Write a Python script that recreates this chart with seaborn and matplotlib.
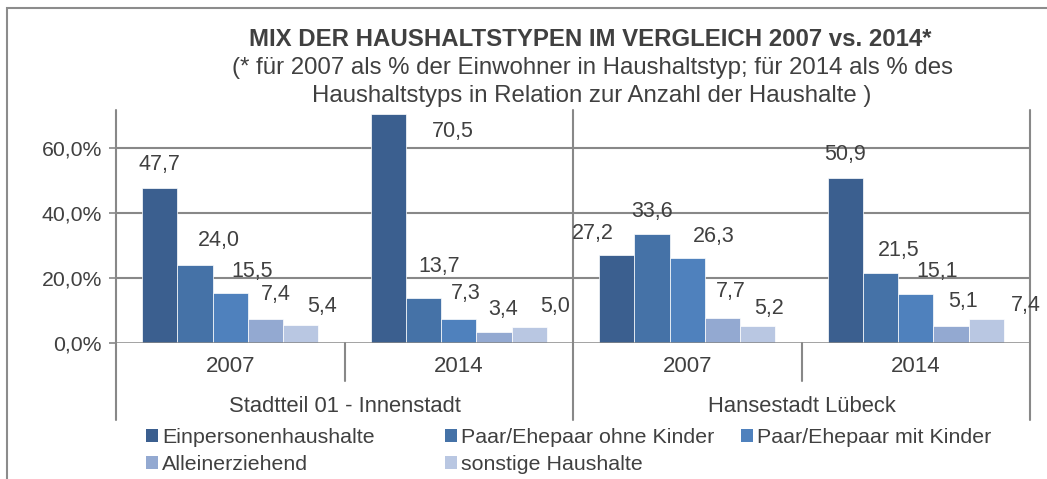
import pandas as pd
import matplotlib.pyplot as plt
import seaborn as sns
from matplotlib.patches import Patch, Rectangle
from matplotlib.ticker import FuncFormatter
import matplotlib.transforms as mtransforms

# data
regions = ["Stadtteil 01 - Innenstadt", "Hansestadt Lübeck"]
years = ["2007", "2014"]
types = ["Einpersonenhaushalte", "Paar/Ehepaar ohne Kinder", "Paar/Ehepaar mit Kinder",
         "Alleinerziehend", "sonstige Haushalte"]
einpersonen = [47.7, 70.5, 27.2, 50.9]
ohne_kinder = [24.0, 13.7, 33.6, 21.5]
mit_kinder = [15.5, 7.3, 26.3, 15.1]
alleinerziehend = [7.4, 3.4, 7.7, 5.1]
sonstige = [5.4, 5.0, 5.2, 7.4]

colors = ["#3b5f8f", "#4572a7", "#4f81bd", "#93a9d1", "#b9c7e2"]
text_col = "#404040"
grid_col = "#888888"

# label offsets (px) from bar top centre, per type and per category, as placed in the reference
label_dx = [[0, 64, -24, 0], [24, 16, 0, 18], [22, 7, 26, 21], [10, 9, 8, 12], [21, 26, 11, 40]]
label_dy = [[23, -18, 21, 23], [25, 32, 22, 23], [21, 26, 21, 22], [24, 22, 26, 25], [19, 20, 18, 13]]

cats = [r + " " + y for r in regions for y in years]
rows = []
for t, vals in zip(types, [einpersonen, ohne_kinder, mit_kinder, alleinerziehend, sonstige]):
    for c, v in zip(cats, vals):
        rows.append({"cat": c, "typ": t, "wert": v / 100})
df = pd.DataFrame(rows)

sns.set_style("white")
plt.rcParams["font.family"] = ["Liberation Sans", "DejaVu Sans"]

W, H = 1047, 479
fig = plt.figure(figsize=(W / 100, H / 100), dpi=100)
ax_l, ax_r, ax_t, ax_b = 116, 1030, 110, 343
ax = fig.add_axes([ax_l / W, 1 - ax_b / H, (ax_r - ax_l) / W, (ax_b - ax_t) / H])

sns.barplot(data=df, x="cat", y="wert", hue="typ", hue_order=types, order=cats,
            palette=colors, width=0.77, gap=0, ax=ax, legend=False,
            edgecolor="white", linewidth=0.5, saturation=1)

ax.set_xlim(-0.5, 3.5)
ax.set_ylim(0, 0.717)
ax.set_yticks([0, 0.2, 0.4, 0.6])
ax.yaxis.set_major_formatter(FuncFormatter(lambda v, p: f"{v * 100:.1f}%".replace(".", ",")))
ax.tick_params(axis="y", length=5, width=1.2, color=grid_col, labelsize=15.3, labelcolor=text_col, pad=5, left=True)
ax.set_xticks([])
ax.set_xlabel("")
ax.set_ylabel("")
for s in ax.spines.values():
    s.set_visible(False)
for yv in [0.2, 0.4, 0.6]:
    ax.axhline(yv, color=grid_col, lw=1.5, zorder=0)
ax.axhline(0, color=grid_col, lw=1.8, zorder=3)

# value labels
for i, cont in enumerate(ax.containers):
    for j, bar in enumerate(cont):
        h = bar.get_height()
        ax.annotate(f"{h * 100:.1f}".replace(".", ","),
                    (bar.get_x() + bar.get_width() / 2, h),
                    xytext=(label_dx[i][j] * 0.72, label_dy[i][j] * 0.72), textcoords="offset points",
                    ha="center", va="center", fontsize=15.5, color=text_col, annotation_clip=False)

# category axis below the plot
ax_h = ax_b - ax_t
def ypos(px):
    return (ax_b - px) / ax_h

trans = mtransforms.blended_transform_factory(ax.transData, ax.transAxes)
for xs in [-0.5, 1.5, 3.5]:
    ax.plot([xs, xs], [ypos(ax_t), ypos(420)], color=grid_col, lw=1.5, transform=trans, clip_on=False)
for xs in [0.5, 2.5]:
    ax.plot([xs, xs], [0, ypos(381)], color=grid_col, lw=1.5, transform=trans, clip_on=False)
for k, c in enumerate(cats):
    ax.text(k, ypos(367), c.split(" ")[-1], transform=trans, ha="center", va="center",
            fontsize=16, color=text_col)
for k, r in enumerate(regions):
    ax.text(2 * k + 0.5, ypos(406), r, transform=trans, ha="center", va="center",
            fontsize=15.8, color=text_col)

# titles
fig.text(590 / W, 1 - 40 / H, "MIX DER HAUSHALTSTYPEN IM VERGLEICH 2007 vs. 2014*", ha="center", va="center",
         fontsize=17.3, fontweight="bold", color=text_col)
fig.text(592 / W, 1 - 68 / H, "(* für 2007 als % der Einwohner in Haushaltstyp; für 2014 als % des",
         ha="center", va="center", fontsize=17.3, color=text_col)
fig.text(592 / W, 1 - 96 / H, "Haushaltstyps in Relation zur Anzahl der Haushalte )",
         ha="center", va="center", fontsize=17.3, color=text_col)

# legend, one column at a time so the columns sit where the reference has them
handles = [Patch(facecolor=c, edgecolor="none") for c in colors]
leg_cols = [[0, 3], [1, 4], [2]]
leg_x = [146, 445, 741]
for col, lx in zip(leg_cols, leg_x):
    leg = fig.legend([handles[i] for i in col], [types[i] for i in col],
                     loc="upper left", bbox_to_anchor=(lx / W, 1 - 428 / H), frameon=False,
                     fontsize=15.4, labelcolor=text_col, handlelength=0.56, handleheight=0.56,
                     handletextpad=0.19, labelspacing=0.36, borderaxespad=0, borderpad=0)

# outer chart frame
fig.add_artist(Rectangle((7 / W, -0.1), 1.2, 1 - 8 / H + 0.1, transform=fig.transFigure,
                         fill=False, edgecolor="#8c8c8c", lw=1.5))

plt.savefig("out.png", dpi=100)
